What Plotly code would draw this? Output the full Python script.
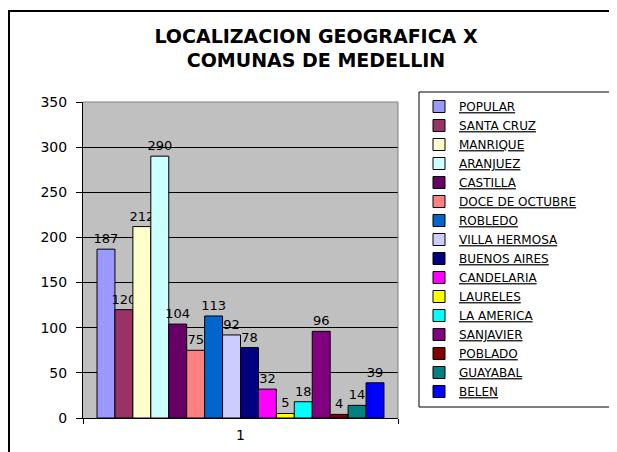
import plotly.graph_objects as go

comunas = ["POPULAR", "SANTA CRUZ", "MANRIQUE", "ARANJUEZ", "CASTILLA",
           "DOCE DE OCTUBRE", "ROBLEDO", "VILLA HERMOSA", "BUENOS AIRES",
           "CANDELARIA", "LAURELES", "LA AMERICA", "SANJAVIER", "POBLADO",
           "GUAYABAL", "BELEN"]
valores = [187, 120, 212, 290, 104, 75, 113, 92, 78, 32, 5, 18, 96, 4, 14, 39]
colores = ["#9999FF", "#993366", "#FFFFCC", "#CCFFFF", "#660066", "#FF8080",
           "#0066CC", "#CCCCFF", "#000080", "#FF00FF", "#FFFF00", "#00FFFF",
           "#800080", "#800000", "#008080", "#0000FF"]
categoria = ["1"]
y_ticks = [0, 50, 100, 150, 200, 250, 300, 350]
titulo = "LOCALIZACION GEOGRAFICA X<br>COMUNAS DE MEDELLIN"

W, H = 617, 452
OFF = 8  # page body margin
# plot area in screen pixels
SX0, SX1, SY0, SY1 = 83, 398, 102, 418
L = SX0 - OFF
T = SY0 - OFF
R = W - (SX1 - OFF)
B = H - (SY1 - OFF)
pw, ph = SX1 - SX0, SY1 - SY0

def px_x(px):
    return (px - SX0) / pw

def px_y(py):
    return (SY1 - py) / ph

FONT = "DejaVu Sans"

fig = go.Figure()
for name, v, c in zip(comunas, valores, colores):
    fig.add_trace(go.Bar(
        x=categoria, y=[v], name="<u>" + name + "</u>",
        marker=dict(color=c, line=dict(color="black", width=1)),
        text=[str(v)], textposition="outside", constraintext="none",
        cliponaxis=False,
        textfont=dict(family=FONT, size=13, color="black"),
    ))

fig.update_layout(
    width=W, height=H,
    margin=dict(l=L, r=R, t=T, b=B, autoexpand=False),
    paper_bgcolor="white", plot_bgcolor="#C0C0C0",
    barmode="group", bargap=0.089, bargroupgap=0,
    font=dict(family=FONT, color="black"),
    title=dict(text=titulo, x=(316 - OFF) / W, xanchor="center", xref="container",
               y=1 - 34.5 / H, yanchor="top", yref="container",
               font=dict(family=FONT, size=19, weight="bold", color="black")),
    xaxis=dict(type="category", showgrid=False, showline=True, linecolor="black",
               linewidth=1, ticks="outside", tickson="boundaries", ticklen=5,
               tickcolor="black", ticklabelstandoff=4,
               tickfont=dict(size=14, family=FONT)),
    yaxis=dict(range=[0, 350], tickvals=y_ticks, showgrid=True, gridcolor="black",
               gridwidth=1, zeroline=False, showline=True, linecolor="black",
               linewidth=1, ticks="outside", ticklen=6, tickcolor="black",
               ticklabelstandoff=6, tickfont=dict(size=14, family=FONT)),
    legend=dict(x=px_x(419), y=px_y(92), xanchor="left", yanchor="top",
                borderwidth=0, bgcolor="rgba(0,0,0,0)",
                font=dict(size=12, family=FONT), traceorder="normal",
                maxheight=420),
    showlegend=True,
    shapes=[
        # outer chart frame
        dict(type="rect", xref="paper", yref="paper",
             x0=px_x(9), x1=px_x(640), y0=px_y(480), y1=px_y(11),
             line=dict(color="black", width=2), layer="below"),
        # legend frame (extends past the right edge as in the original)
        dict(type="rect", xref="paper", yref="paper",
             x0=px_x(419), x1=px_x(660), y0=px_y(407), y1=px_y(92),
             line=dict(color="black", width=1), fillcolor="white", layer="below"),
        # plot-area border (top / right)
        dict(type="line", xref="paper", yref="paper", x0=0, x1=1, y0=1, y1=1,
             line=dict(color="#808080", width=1)),
        dict(type="line", xref="paper", yref="paper", x0=1, x1=1, y0=0, y1=1,
             line=dict(color="#808080", width=1)),
    ],
)

fig.write_html("out.html")
